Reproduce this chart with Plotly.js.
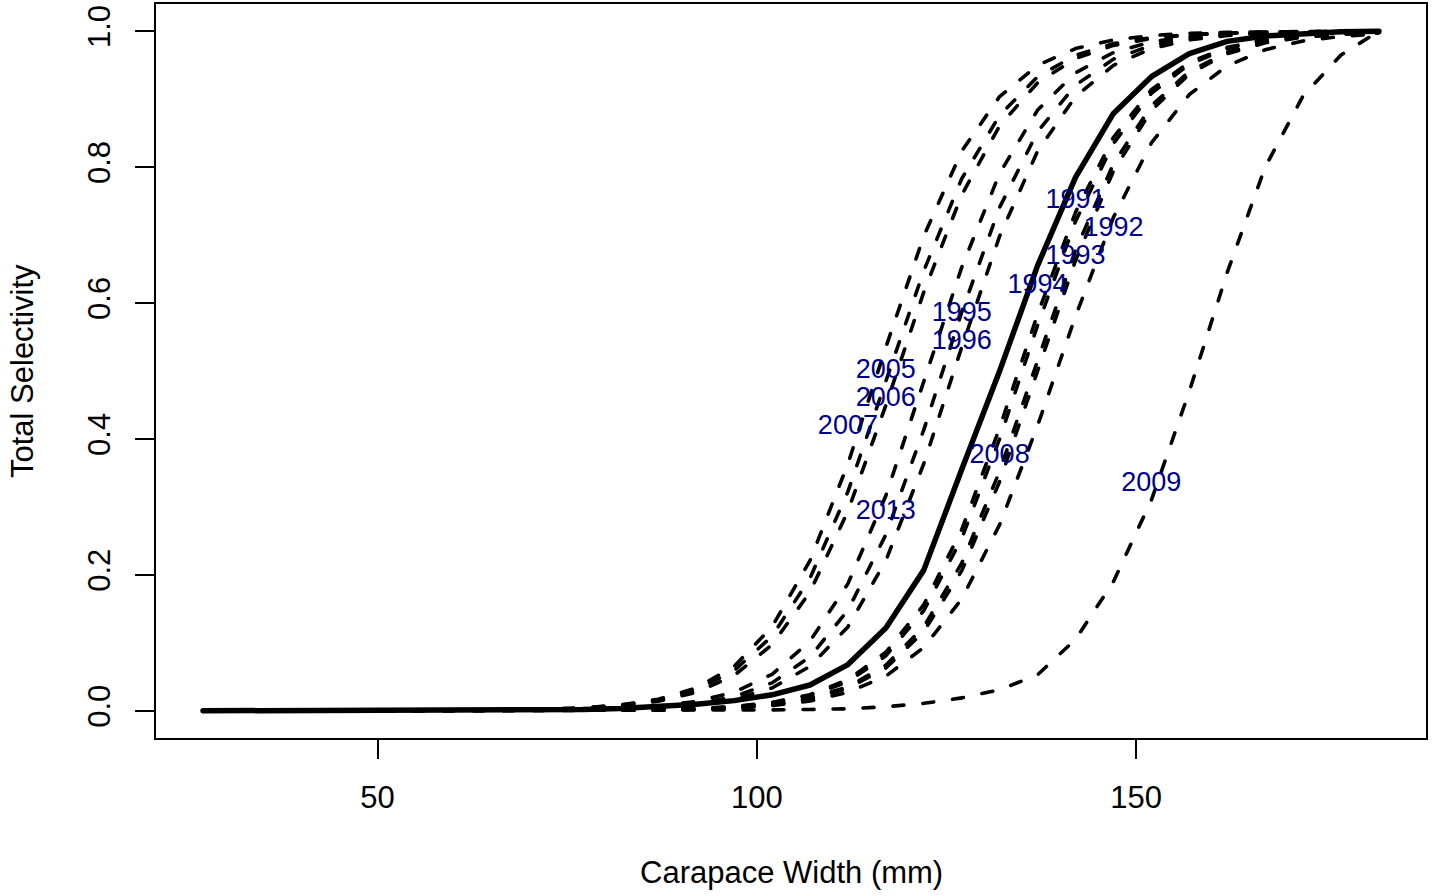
<!DOCTYPE html>
<html>
<head>
<meta charset="utf-8">
<script src="https://cdn.plot.ly/plotly-3.0.1.min.js"></script>
<style>
html,body{margin:0;padding:0;background:#fff;}
#chart{width:1436px;height:896px;}
.js-line{stroke-linecap:round;stroke-linejoin:round;}
</style>
</head>
<body>
<div id="chart"></div>
<script>
// Carapace width bins (mm)
const widths = [27,32,37,42,47,52,57,62,67,72,77,82,87,92,97,102,107,112,117,122,127,132,137,142,147,152,157,162,167,172,177,182];

// Yearly total selectivity curves (dashed)
const sel1991 = [0.0000005,0.0000009,0.0000018,0.0000035,0.0000069,0.0000136,0.000027,0.000052,0.0001,0.0002,0.0004,0.00078,0.00153,0.0030,0.0059,0.0115,0.0223,0.0429,0.0809,0.1474,0.2535,0.4001,0.5671,0.7201,0.8348,0.9085,0.9512,0.9745,0.9869,0.9933,0.9966,0.9982];
const sel1992 = [0.0000004,0.0000009,0.0000016,0.000003,0.000006,0.000011,0.000022,0.000042,0.00008,0.00015,0.0003,0.00057,0.00108,0.0021,0.0040,0.0076,0.0144,0.0273,0.0509,0.0932,0.1645,0.2739,0.4195,0.5805,0.7261,0.8355,0.9068,0.9491,0.9727,0.9856,0.9924,0.9960];
const sel1993 = [0.00000035,0.0000007,0.0000014,0.0000027,0.0000053,0.00001,0.00002,0.00004,0.000079,0.00015,0.0003,0.0006,0.00117,0.0023,0.0045,0.0088,0.0171,0.0331,0.0630,0.1166,0.2059,0.3374,0.5,0.6626,0.7941,0.8834,0.9370,0.9669,0.9829,0.9912,0.9955,0.9977];
const sel1994 = [0.0000005,0.000001,0.0000019,0.0000038,0.0000074,0.000015,0.000029,0.000056,0.00011,0.00022,0.00043,0.00084,0.0016,0.0032,0.0063,0.0123,0.0238,0.0458,0.0861,0.1561,0.2665,0.4164,0.5836,0.7335,0.8439,0.9139,0.9542,0.9762,0.9877,0.9937,0.9968,0.9984];
const sel1995 = [0.0000012,0.0000024,0.0000048,0.0000096,0.000019,0.000039,0.000079,0.00016,0.00032,0.00064,0.0013,0.0026,0.0052,0.0105,0.0208,0.0411,0.0794,0.1480,0.2592,0.4134,0.5866,0.7408,0.8520,0.9206,0.9589,0.9792,0.9895,0.9948,0.9974,0.9987,0.9994,0.9997];
const sel1996 = [0.000001,0.000002,0.000004,0.000008,0.000016,0.000032,0.000064,0.00013,0.00026,0.00052,0.00105,0.00211,0.00424,0.0085,0.0170,0.0336,0.0654,0.1235,0.2210,0.3635,0.5349,0.6985,0.8235,0.9038,0.9498,0.9744,0.9871,0.9936,0.9968,0.9984,0.9992,0.9996];
const sel2005 = [0.000005,0.00001,0.000019,0.000037,0.000073,0.000144,0.000284,0.00056,0.00109,0.00215,0.0042,0.0082,0.0160,0.0310,0.0591,0.1098,0.1951,0.3225,0.4831,0.6474,0.7829,0.8763,0.9329,0.9647,0.9817,0.9906,0.9952,0.9975,0.9987,0.9994,0.9997,0.9998];
const sel2006 = [0.0000043,0.0000085,0.000017,0.000033,0.000064,0.000126,0.00025,0.00049,0.00096,0.00188,0.00368,0.0072,0.0140,0.0272,0.0520,0.0973,0.1747,0.2937,0.4495,0.6160,0.7590,0.8609,0.9240,0.9598,0.9791,0.9893,0.9945,0.9972,0.9986,0.9993,0.9996,0.9998];
const sel2007 = [0.000004,0.000008,0.000016,0.000032,0.000064,0.00013,0.00026,0.00052,0.00105,0.00211,0.00424,0.0085,0.0170,0.0336,0.0654,0.1235,0.2210,0.3635,0.5349,0.6985,0.8235,0.9038,0.9498,0.9744,0.9871,0.9936,0.9968,0.9984,0.9992,0.9996,0.9998,0.9999];
const sel2008 = [0.0000004,0.00000075,0.0000015,0.0000029,0.0000057,0.000011,0.000022,0.000043,0.000084,0.00017,0.00032,0.00064,0.00125,0.0025,0.0048,0.0094,0.0183,0.0353,0.0671,0.1237,0.2171,0.3526,0.5169,0.6775,0.8049,0.8902,0.9409,0.9690,0.9840,0.9918,0.9958,0.9979];
const sel2009 = [0.00001,0.00001,0.00002,0.00002,0.00003,0.00004,0.00005,0.00007,0.0001,0.00014,0.0002,0.0003,0.0004,0.0006,0.0009,0.0013,0.002,0.003,0.006,0.011,0.019,0.031,0.053,0.105,0.19,0.31,0.47,0.645,0.80,0.905,0.965,1.0];
const sel2013 = [0.0000016,0.0000032,0.0000064,0.000013,0.000026,0.000052,0.000104,0.00021,0.00042,0.00085,0.00171,0.00344,0.0069,0.0138,0.0274,0.0537,0.1025,0.1869,0.3165,0.4825,0.6525,0.7908,0.8839,0.9388,0.9686,0.9842,0.9921,0.9960,0.9980,0.9990,0.9995,0.9998];

// Overall selectivity (solid)
const selOverall = [0,0,0.00001,0.00002,0.00004,0.00008,0.00015,0.0003,0.0006,0.0011,0.002,0.0035,0.006,0.0095,0.015,0.0235,0.038,0.068,0.122,0.207,0.355,0.50,0.655,0.785,0.879,0.933,0.967,0.985,0.993,0.997,0.999,1.0];

// Year labels
const labelYears = ["1991","1992","1993","1994","1995","1996","2005","2006","2007","2008","2009","2013"];
const labelX = [142,147,142,137,127,127,117,117,112,132,152,117];
const labelY = [0.75,0.708,0.667,0.625,0.583,0.542,0.5,0.458,0.417,0.375,0.333,0.292];

const xTicks = [50,100,150];
const yTicks = [0,0.2,0.4,0.6,0.8,1.0];
const yTickText = ["0.0","0.2","0.4","0.6","0.8","1.0"];

const yearSeries = [sel1991,sel1992,sel1993,sel1994,sel1995,sel1996,sel2005,sel2006,sel2007,sel2008,sel2009,sel2013];

const FONT = "Liberation Sans, Arial, Helvetica, sans-serif";
const traces = [];
yearSeries.forEach((s,i)=>{
  traces.push({x:widths,y:s,type:'scatter',mode:'lines',name:labelYears[i],
    line:{color:'#000',width:3.6,dash:'11px,19px'},hoverinfo:'skip'});
});
traces.push({x:widths,y:selOverall,type:'scatter',mode:'lines',name:'overall',
  line:{color:'#000',width:5.5},hoverinfo:'skip'});
traces.push({x:labelX,y:labelY,type:'scatter',mode:'text',text:labelYears,
  textposition:'middle center',textfont:{family:FONT,size:27,color:'#00008B'},hoverinfo:'skip'});

const layout = {
  width:1436,height:896,
  margin:{l:156,r:10,t:4,b:158,pad:0},
  paper_bgcolor:'#fff',plot_bgcolor:'#fff',
  showlegend:false,
  font:{family:FONT,size:31,color:'#000'},
  xaxis:{range:[20.8,188.2],tickvals:xTicks,ticktext:xTicks.map(String),ticks:'outside',ticklen:19,tickwidth:2,tickcolor:'#000',
    showline:true,mirror:true,linewidth:2,linecolor:'#000',showgrid:false,zeroline:false,
    tickfont:{family:FONT,size:31,color:'#000'},ticklabelstandoff:12},
  yaxis:{range:[-0.04,1.04],tickvals:yTicks,ticktext:yTickText,tickangle:-90,ticks:'outside',ticklen:19,tickwidth:2,tickcolor:'#000',
    showline:true,mirror:true,linewidth:2,linecolor:'#000',showgrid:false,zeroline:false,
    tickfont:{family:FONT,size:31,color:'#000'},ticklabelstandoff:13},
  annotations:[
    {text:'Carapace Width (mm)',xref:'paper',yref:'paper',x:0.5,y:-0.1839,xanchor:'center',yanchor:'middle',showarrow:false,font:{family:FONT,size:31,color:'#000'}},
    {text:'Total Selectivity',xref:'paper',yref:'paper',x:-0.1055,y:0.5,xanchor:'center',yanchor:'middle',textangle:-90,showarrow:false,font:{family:FONT,size:31,color:'#000'}}
  ]
};
Plotly.newPlot('chart',traces,layout,{displayModeBar:false,staticPlot:true});
</script>
</body>
</html>
